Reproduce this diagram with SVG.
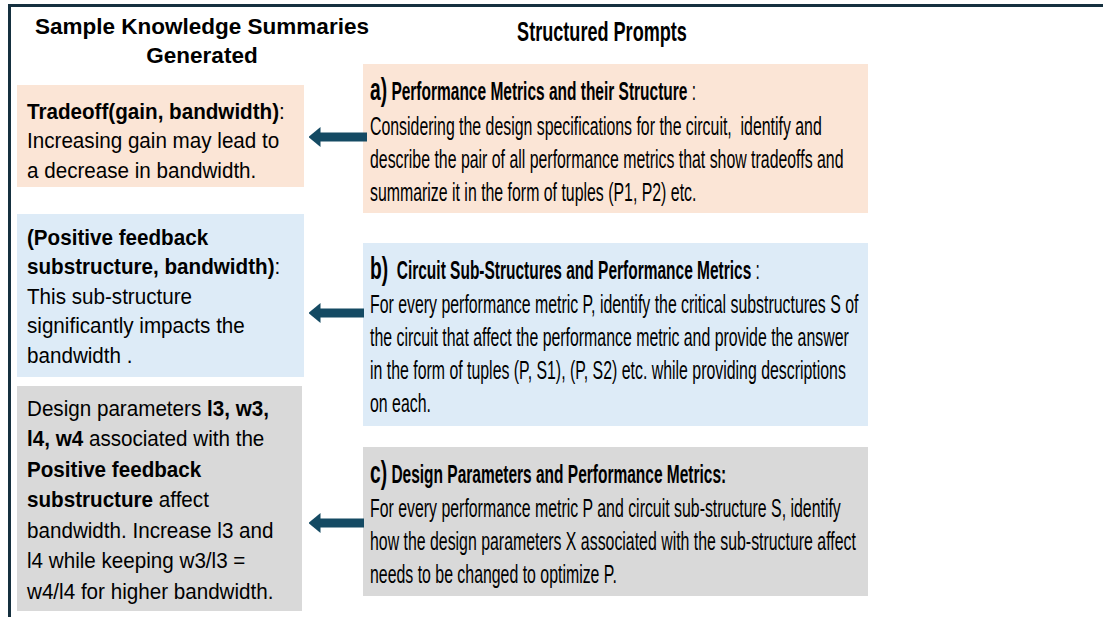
<svg xmlns="http://www.w3.org/2000/svg" width="1103" height="617" viewBox="0 0 1103 617">
<style>
text{font-family:"Liberation Sans",Arial,sans-serif;fill:#000}
.lt{font-size:22.5px}
.rt{font-size:25px}
.b{font-weight:bold}
.ttl{font-weight:bold}
.peach{fill:#FBE5D6}
.blue{fill:#DDEBF7}
.gray{fill:#D9D9D9}
.frame{stroke:#15303F;stroke-width:3;fill:none}
.conn{stroke:#144A63;stroke-width:9;fill:none}
</style>
<defs>
<marker id="ah" markerUnits="userSpaceOnUse" viewBox="0 0 12 20" refX="0.5" refY="10" markerWidth="12" markerHeight="20" orient="auto">
<path d="M0,0 L12,10 L0,20 Z" fill="#144A63"/>
</marker>
</defs>
<rect width="1103" height="617" fill="#fff"/>
<g id="frame">
<path class="frame" d="M9.5,617 V5.5 H1103"/>
</g>
<g id="left-title">
<text class="ttl" font-size="22.5" text-anchor="middle" x="202" y="34">Sample Knowledge Summaries</text>
<text class="ttl" font-size="22.5" text-anchor="middle" x="202" y="63">Generated</text>
</g>
<g id="right-title">
<text class="ttl" font-size="27" text-anchor="middle" transform="translate(602,41) scale(0.67,1)" x="0" y="0">Structured Prompts</text>
</g>
<g id="summary-a">
<rect class="peach" x="17" y="85" width="287" height="102"/>
<text class="lt" transform="translate(27,119) scale(0.917,1)"><tspan x="0" y="0"><tspan class="b">Tradeoff(gain, bandwidth)</tspan>:</tspan><tspan x="0" y="29.5">Increasing gain may lead to</tspan><tspan x="0" y="59">a decrease in bandwidth.</tspan></text>
</g>
<g id="summary-b">
<rect class="blue" x="17" y="214" width="287" height="163"/>
<text class="lt" transform="translate(27,245) scale(0.917,1)"><tspan x="0" y="0" class="b">(Positive feedback</tspan><tspan x="0" y="29.5"><tspan class="b">substructure, bandwidth)</tspan>:</tspan><tspan x="0" y="59">This sub-structure</tspan><tspan x="0" y="88.5">significantly impacts the</tspan><tspan x="0" y="118">bandwidth .</tspan></text>
</g>
<g id="summary-c">
<rect class="gray" x="17" y="386" width="285" height="225"/>
<text class="lt" transform="translate(27,416) scale(0.917,1)"><tspan x="0" y="0">Design parameters <tspan class="b">l3, w3,</tspan></tspan><tspan x="0" y="30.5"><tspan class="b">l4, w4</tspan> associated with the</tspan><tspan x="0" y="61" class="b">Positive feedback</tspan><tspan x="0" y="91.5"><tspan class="b">substructure</tspan> affect</tspan><tspan x="0" y="122">bandwidth. Increase l3 and</tspan><tspan x="0" y="152.5">l4 while keeping w3/l3 =</tspan><tspan x="0" y="183">w4/l4 for higher bandwidth.</tspan></text>
</g>
<g id="prompt-a">
<rect class="peach" x="363" y="64" width="505" height="149"/>
<text class="rt" xml:space="preserve" transform="translate(370,100) scale(0.62,1)"><tspan class="b" font-size="31">a)</tspan><tspan class="b"> Performance Metrics and their Structure</tspan> :</text>
<text class="rt" xml:space="preserve" transform="translate(370,135) scale(0.635,1)"><tspan x="0" y="0">Considering the design specifications for the circuit,  identify and</tspan><tspan x="0" y="33">describe the pair of all performance metrics that show tradeoffs and</tspan><tspan x="0" y="66">summarize it in the form of tuples (P1, P2) etc.</tspan></text>
</g>
<g id="prompt-b">
<rect class="blue" x="363" y="243" width="505" height="183"/>
<text class="rt" xml:space="preserve" transform="translate(370,279) scale(0.62,1)"><tspan class="b" font-size="31">b)</tspan><tspan class="b">  Circuit Sub-Structures and Performance Metrics</tspan> :</text>
<text class="rt" transform="translate(370,313) scale(0.635,1)"><tspan x="0" y="0">For every performance metric P, identify the critical substructures S of</tspan><tspan x="0" y="33">the circuit that affect the performance metric and provide the answer</tspan><tspan x="0" y="66">in the form of tuples (P, S1), (P, S2) etc. while providing descriptions</tspan><tspan x="0" y="99">on each.</tspan></text>
</g>
<g id="prompt-c">
<rect class="gray" x="363" y="447" width="505" height="149"/>
<text class="rt" xml:space="preserve" transform="translate(370,483) scale(0.62,1)"><tspan class="b" font-size="31">c)</tspan><tspan class="b"> Design Parameters and Performance Metrics:</tspan></text>
<text class="rt" transform="translate(370,517) scale(0.635,1)"><tspan x="0" y="0">For every performance metric P and circuit sub-structure S, identify</tspan><tspan x="0" y="33">how the design parameters X associated with the sub-structure affect</tspan><tspan x="0" y="66">needs to be changed to optimize P.</tspan></text>
</g>
<g id="connectors">
<line class="conn" x1="367" y1="137" x2="320" y2="137" marker-end="url(#ah)"/>
<line class="conn" x1="364" y1="313" x2="320" y2="313" marker-end="url(#ah)"/>
<line class="conn" x1="364" y1="523" x2="320" y2="523" marker-end="url(#ah)"/>
</g>
</svg>
